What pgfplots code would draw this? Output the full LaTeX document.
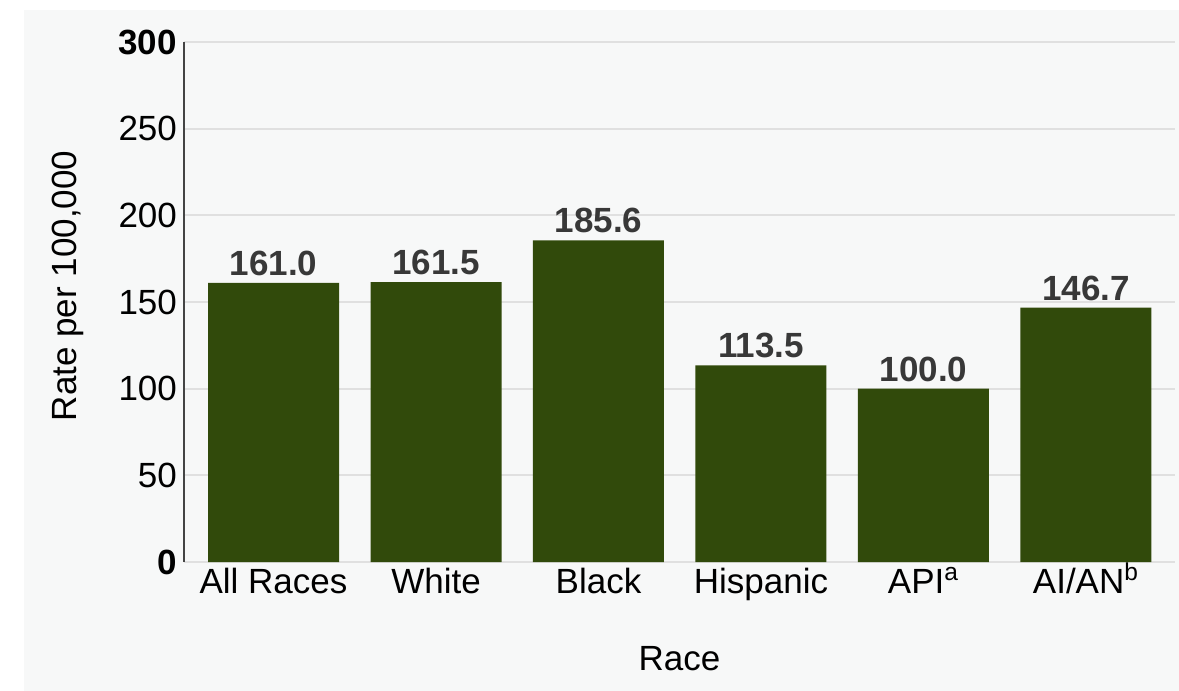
\documentclass[border=0pt]{standalone}
\usepackage{pgfplots}
\pgfplotsset{compat=1.18}
\usepackage{fontspec}
\setmainfont{Liberation Sans}

\definecolor{bgpanel}{RGB}{247,248,248}
\definecolor{barfill}{RGB}{49,74,11}
\definecolor{gridgray}{RGB}{224,224,224}
\definecolor{axisdark}{RGB}{68,68,68}
\definecolor{valtext}{RGB}{56,56,56}

\begin{document}
\begin{tikzpicture}
% page and panel background
\fill[white] (-92pt,-64.5pt) rectangle (497.5pt,281pt);
\fill[bgpanel] (-80pt,-64.5pt) rectangle (497.5pt,276pt);
\begin{axis}[
  scale only axis,
  width=495.5pt, height=260pt,
  xmin=-0.551, xmax=5.548,
  ymin=0, ymax=300,
  ybar, bar width=65.5pt, bar shift=0pt,
  xtick={0,1,2,3,4,5},
  xticklabels={All Races,White,Black,Hispanic,API\textsuperscript{a},AI/AN\textsuperscript{b}},
  ytick={0,50,100,150,200,250,300},
  yticklabels={\textbf{0},50,100,150,200,250,\textbf{300}},
  ymajorgrids,
  major grid style={gridgray, line width=1pt},
  major tick length=0pt,
  axis x line*=bottom, axis y line*=left,
  x axis line style={draw=none},
  y axis line style={-, draw=axisdark, line width=1.3pt},
  tick label style={font=\fontsize{17.5}{21}\selectfont, text=black},
  xticklabel style={text height=12pt, text depth=0pt},
  every axis x label/.style={at={(axis description cs:0.5,-0.185)}, anchor=center, font=\fontsize{17.5}{21}\selectfont},
  every axis y label/.style={at={(axis description cs:-0.117,0.531)}, anchor=center, rotate=90, font=\fontsize{17.5}{21}\selectfont},
  xlabel={Race},
  ylabel={Rate per 100,000},
  /pgf/number format/assume math mode=true,
  nodes near coords={\pgfmathprintnumber[fixed,fixed zerofill,precision=1]{\pgfplotspointmeta}},
  nodes near coords style={font=\bfseries\fontsize{17.5}{21}\selectfont, text=valtext},
  clip=false,
]
\addplot[fill=barfill, draw=none] coordinates {
  (0,161.0) (1,161.5) (2,185.6) (3,113.5) (4,100.0) (5,146.7)
};
\end{axis}
\pgfresetboundingbox
\useasboundingbox (-92pt,-64.5pt) rectangle (497.5pt,281pt);
\end{tikzpicture}
\end{document}
